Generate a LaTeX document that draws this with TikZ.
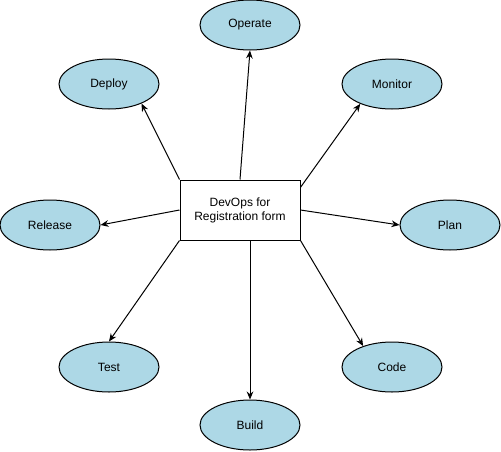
\documentclass[tikz,border=0pt]{standalone}
\usepackage{fontspec}
\setmainfont{Liberation Sans}
\usetikzlibrary{arrows.meta}
\usetikzlibrary{shapes.geometric}

\definecolor{stage_blue}{HTML}{ADD8E6}

\begin{document}
\begin{tikzpicture}[
		x=0.75pt, y=-0.75pt,
		every node/.style={ellipse, draw, fill=stage_blue, line width=0.75pt, minimum width=75pt, minimum height=37.5pt, inner sep=0pt, font=\fontsize{9}{10.5}\selectfont},
		every edge/.append style={-{Stealth[length=6pt, width=5pt]}, line width=0.75pt}
	]
  \useasboundingbox (0,0) rectangle (501,451);
  \node (dev_ops) [rectangle, fill=white, minimum width=90pt, minimum height=45pt, align=center] at (240,210) {DevOps for\\Registration form};
  \node (op) at (250,25) {Operate};
  \node (mon) at (392,84) {Monitor};
  \node (dep) at (109,84) {Deploy};
  \node (rel) at (50,225) {Release};
  \node (pl) at (450,225) {Plan};
  \node (tst) at (109,367) {Test};
  \node (cod) at (392,367) {Code};
  \node (bld) at (250,425) {Build};
  \draw (dev_ops.north) edge (op.south);
  \draw ([yshift=17pt]dev_ops.east) edge (mon.212);
  \draw (dev_ops.north west) edge (dep.-31);
  \draw (dev_ops.west) edge (rel.east);
  \draw (dev_ops.east) edge (pl.west);
  \draw (dev_ops.south west) edge (tst.north);
  \draw (dev_ops.south east) edge (cod.144);
  \draw ([xshift=7.5pt]dev_ops.south) edge (bld.north);
\end{tikzpicture}
\end{document}
